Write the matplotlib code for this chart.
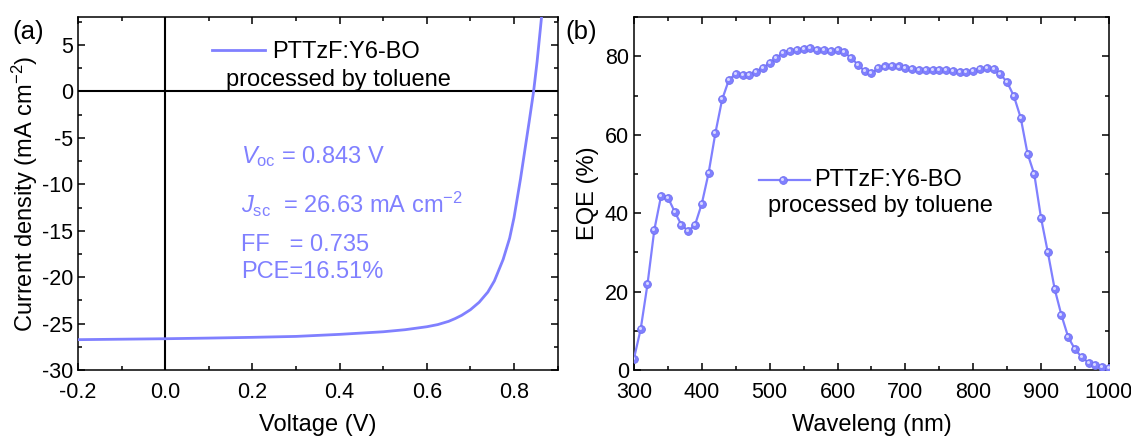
import matplotlib
matplotlib.use('Agg')
import matplotlib.pyplot as plt
from matplotlib.ticker import MultipleLocator
from matplotlib.transforms import offset_copy

plt.rcParams['font.family'] = ['Liberation Sans', 'DejaVu Sans']
plt.rcParams['mathtext.fontset'] = 'custom'
plt.rcParams['mathtext.rm'] = 'Liberation Sans'
plt.rcParams['mathtext.it'] = 'Liberation Sans:italic'
plt.rcParams['axes.linewidth'] = 1.1
plt.rcParams['axes.unicode_minus'] = False

blue = '#8080FF'

# J-V curve
voltage = [-0.2, -0.1, 0.0, 0.1, 0.2, 0.3, 0.4, 0.5, 0.55, 0.6, 0.625, 0.65,
           0.665, 0.68, 0.70, 0.72, 0.74, 0.755, 0.775, 0.79, 0.80, 0.815,
           0.825, 0.835, 0.845, 0.853, 0.863]
current = [-26.72, -26.67, -26.62, -26.55, -26.47, -26.37, -26.15, -25.87,
           -25.65, -25.33, -25.1, -24.75, -24.45, -24.1, -23.5, -22.7, -21.6,
           -20.4, -18.1, -15.8, -13.6, -9.4, -6.3, -3.2, 0.0, 3.2, 7.9]

# EQE spectrum
wavelength = list(range(300, 1001, 10))
eqe = [2.9, 10.5, 21.9, 35.7, 44.4, 44.0, 40.4, 37.0, 35.5, 37.0,
       42.4, 50.2, 60.4, 69.0, 74.0, 75.5, 75.3, 75.3, 76.1, 77.1,
       78.2, 79.6, 80.9, 81.4, 81.7, 81.8, 82.0, 81.7, 81.5, 81.4,
       81.5, 81.0, 79.6, 77.9, 76.2, 75.7, 76.9, 77.4, 77.6, 77.4,
       76.9, 76.7, 76.5, 76.5, 76.5, 76.5, 76.4, 76.3, 76.1, 76.1,
       76.3, 76.7, 76.9, 76.8, 75.4, 73.4, 69.8, 64.3, 55.2, 49.9,
       38.7, 30.0, 20.7, 14.0, 8.4, 5.3, 3.3, 1.9, 1.2, 0.8, 0.5]

fig = plt.figure(figsize=(11.31, 4.37), dpi=100)
ax1 = fig.add_axes([0.069, 0.153, 0.424, 0.808])
ax2 = fig.add_axes([0.5605, 0.153, 0.420, 0.808])

for ax in (ax1, ax2):
    ax.tick_params(which='both', direction='in', top=True, right=True,
                   labelsize=15.5, width=1.1)
    ax.tick_params(which='major', length=5)
    ax.tick_params(which='minor', length=3)
    ax.tick_params(axis='x', pad=8.5)

# ---- (a) J-V ----
ax1.axhline(0, color='black', lw=1.5, zorder=1)
ax1.axvline(0, color='black', lw=1.5, zorder=1)
ax1.plot(voltage, current, color=blue, lw=2, zorder=3)
ax1.set_xlim(-0.2, 0.9)
ax1.set_ylim(-30, 8)
ax1.xaxis.set_major_locator(MultipleLocator(0.2))
ax1.xaxis.set_minor_locator(MultipleLocator(0.1))
ax1.yaxis.set_major_locator(MultipleLocator(5))
ax1.yaxis.set_minor_locator(MultipleLocator(2.5))
ax1.xaxis.set_major_formatter(plt.FuncFormatter(lambda v, p: f'{v:.1f}'))
ax1.set_xlabel('Voltage (V)', fontsize=17, labelpad=8)
ax1.set_ylabel('Current density (mA cm$^{-2}$)', fontsize=17, labelpad=1)

ax1.plot([0.108, 0.229], [4.4, 4.4], color=blue, lw=2)
ax1.text(0.245, 3.57, 'PTTzF:Y6-BO', fontsize=17, va='baseline', ha='left')
ax1.text(0.398, 0.54, 'processed by toluene', fontsize=17, va='baseline', ha='center')

ax1.text(0.174, -7.68, r'$V_{\rm oc}$ = 0.843 V', fontsize=17, color=blue, va='baseline')
ax1.text(0.174, -13.1, r'$J_{\rm sc}$  = 26.63 mA cm$^{-2}$', fontsize=17, color=blue, va='baseline')
ax1.text(0.174, -17.15, 'FF   = 0.735', fontsize=17, color=blue, va='baseline')
ax1.text(0.174, -20.1, 'PCE=16.51%', fontsize=17, color=blue, va='baseline')

# ---- (b) EQE ----
ax2.plot(wavelength, eqe, color=blue, lw=1.6, marker='o', ms=5.6,
         mfc=blue, mec='#7070F0', mew=0.6, zorder=3)
hl = offset_copy(ax2.transData, fig=fig, x=-0.7, y=0.7, units='points')
ax2.plot(wavelength, eqe, ls='none', marker='o', ms=2.2, mfc='#D8D8FF',
         mec='none', transform=hl, zorder=4)
ax2.set_xlim(300, 1000)
ax2.set_ylim(0, 90)
ax2.xaxis.set_major_locator(MultipleLocator(100))
ax2.xaxis.set_minor_locator(MultipleLocator(50))
ax2.yaxis.set_major_locator(MultipleLocator(20))
ax2.yaxis.set_minor_locator(MultipleLocator(10))
ax2.set_xlabel('Waveleng (nm)', fontsize=17, labelpad=8)
ax2.set_ylabel('EQE (%)', fontsize=17, labelpad=4)

ax2.plot([485, 559], [48.4, 48.4], color=blue, lw=1.6)
ax2.plot([520], [48.4], marker='o', ms=5.6, mfc=blue, mec='#7070F0', mew=0.6)
ax2.plot([520], [48.4], marker='o', ms=2.2, mfc='#D8D8FF', mec='none', transform=hl)
ax2.text(565, 46.9, 'PTTzF:Y6-BO', fontsize=17, va='baseline', ha='left')
ax2.text(663, 40.4, 'processed by toluene', fontsize=17, va='baseline', ha='center')

fig.text(0.011, 0.927, '(a)', fontsize=18.5, va='center')
fig.text(0.5, 0.927, '(b)', fontsize=18.5, va='center')

fig.savefig('out.png', dpi=100)
